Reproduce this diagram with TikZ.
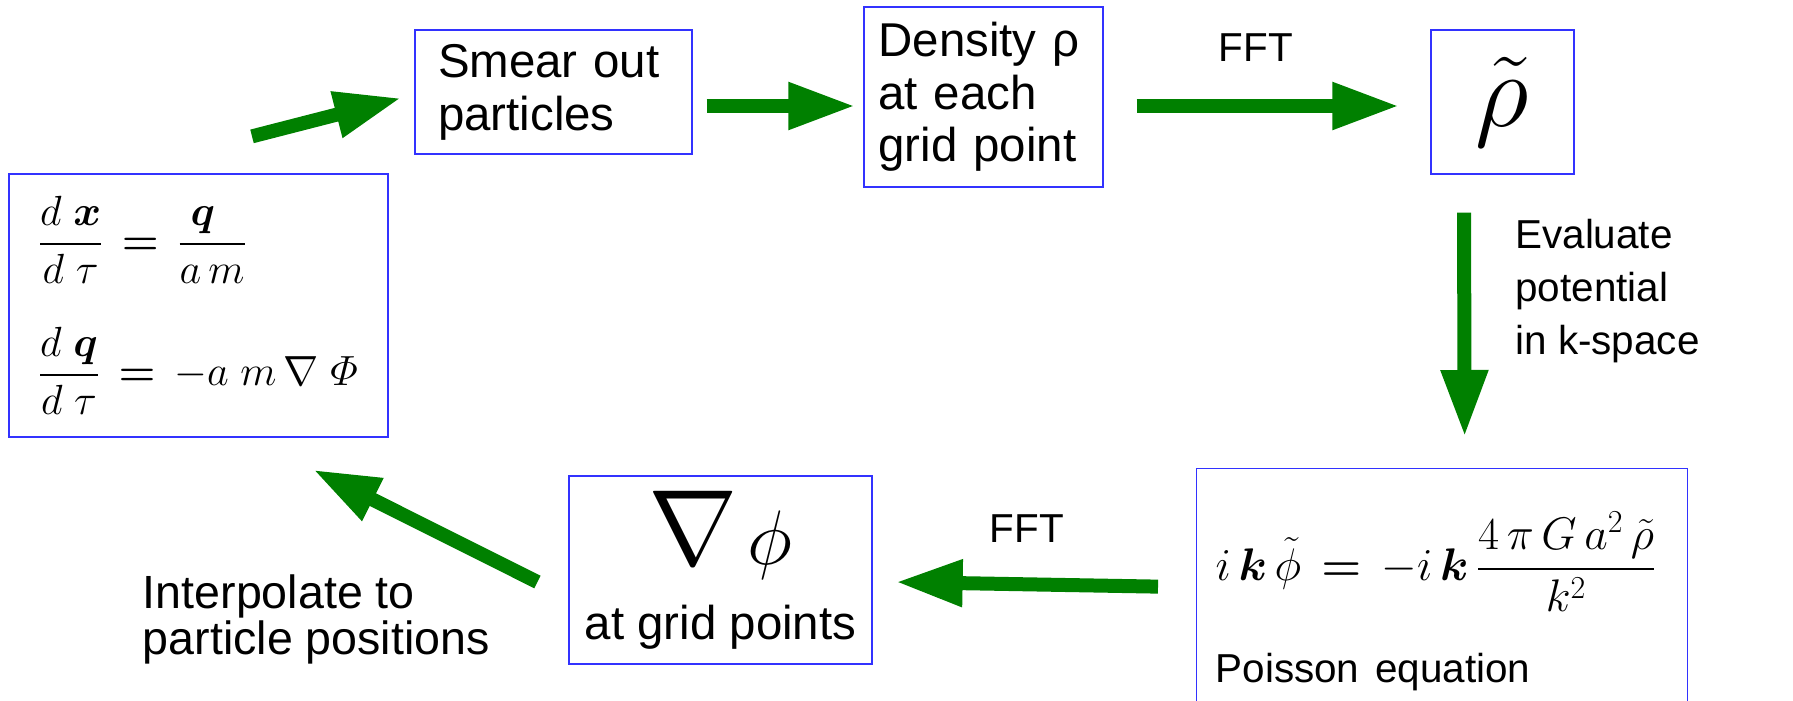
\RequirePackage{fix-cm}
\documentclass[tikz,border=0pt]{standalone}
\usepackage{amsmath}
\usepackage{bm}
\usepackage[no-math]{fontspec}
\setmainfont{Liberation Sans}
\usetikzlibrary{arrows.meta,positioning,calc}
\definecolor{ink}{RGB}{0,0,0}
\definecolor{frame}{RGB}{50,50,255}
\definecolor{flowgreen}{RGB}{0,128,0}
\newcommand{\bigtext}{\fontsize{27}{30}\selectfont}
\newcommand{\smalltext}{\fontsize{23}{30}\selectfont}
\newcommand{\eqtext}{\fontsize{24}{28}\selectfont}
\tikzset{
  every picture/.style={color=ink, line width=0.5pt},
  box/.style={draw=frame, line width=0.25mm, fill=white, align=left, font=\bigtext},
  fat/.style={-{Triangle[length=13.4mm,width=8.8mm]}, line width=2.8mm, color=flowgreen},
  lbl/.style={font=\smalltext, text=ink, inner sep=1.5pt, align=left},
}

\begin{document}
\begin{tikzpicture}
  \useasboundingbox (0,0) rectangle (358.6mm,-140mm);
  % the particle-mesh cycle, clockwise from the equations of motion
  \node[box, minimum width=75.8mm, minimum height=52.6mm, inner xsep=5.8mm, text width=64.2mm] (eqs) at (39.7mm,-61.1mm)
    {{\eqtext$\displaystyle\frac{d\;\bm{x}}{d\;\tau}\,\bm{=}\,\frac{\bm{q}\;\,}{a\,m}$}\\[8.5mm]
     {\eqtext$\displaystyle\frac{d\;\bm{q}}{d\;\tau}\,\bm{=}\,-a\;m\,\nabla\;\varPhi$}};
  \node[box, minimum height=24.8mm, inner xsep=4.6mm, text width=46.2mm] (smear) at (110.7mm,-18.4mm) {Smear out\\particles};
  \node[box, minimum height=36mm, inner xsep=2.9mm, text width=42mm] (dens) at (196.7mm,-19.4mm) {Density ρ\\at each\\grid point};
  \node[box, align=center, minimum width=28.6mm, minimum height=28.8mm, inner sep=0pt] (rhok) at (300.5mm,-20.4mm) {\fontsize{60}{64}\selectfont$\tilde{\rho}$};
  \node[box, anchor=north west, minimum height=53.2mm, inner xsep=3.8mm, text width=90.6mm] (poisson) at (239.2mm,-93.6mm)
    {{\fontsize{26}{30}\selectfont$\displaystyle i\,\bm{k}\,\tilde{\phi}\,\bm{=}\,-i\,\bm{k}\,\frac{4\,\pi\,G\,a^{2}\,\tilde{\rho}}{k^{2}}$}\\[8.1mm]{\smalltext Poisson equation}};
  \node[box, align=center, minimum width=60.6mm, minimum height=37.6mm] (grad) at (144.1mm,-114mm)
    {{\fontsize{61}{64}\selectfont$\nabla$}\hspace{2mm}{\fontsize{44}{48}\selectfont$\phi$}\\[4.5mm]at grid points};

  \draw[fat] ([shift={(10.7mm,7.4mm)}]eqs.north) -- ([shift={(-2.6mm,-1.2mm)}]smear.west);
  \draw[fat] ([shift={(2.8mm,-2.8mm)}]smear.east) -- ([shift={(-1.6mm,-1.8mm)}]dens.west);
  \draw[fat] ([shift={(6.6mm,-1.8mm)}]dens.east) -- node[lbl, above=7mm, xshift=-2.4mm] {FFT} ([shift={(-6.2mm,-0.8mm)}]rhok.west);
  \draw[fat] ([shift={(-7.7mm,-7.6mm)}]rhok.south) -- node[lbl, pos=0.35, right=8.3mm] {Evaluate\\potential\\in k-space} ([shift={(4.5mm,6.2mm)}]poisson.north);
  \draw[fat] ([shift={(-7.6mm,3mm)}]poisson.west) -- node[lbl, above=6.5mm] {FFT} ([shift={(4.6mm,-2.4mm)}]grad.east);
  \draw[fat] ([shift={(-6.2mm,-2.4mm)}]grad.west) -- node[lbl, pos=0, anchor=north east, xshift=-7.6mm, yshift=3.4mm, font=\fontsize{26.5}{26}\selectfont] {Interpolate to\\particle positions} ([shift={(22.9mm,-6.4mm)}]eqs.south);
\end{tikzpicture}
\end{document}
